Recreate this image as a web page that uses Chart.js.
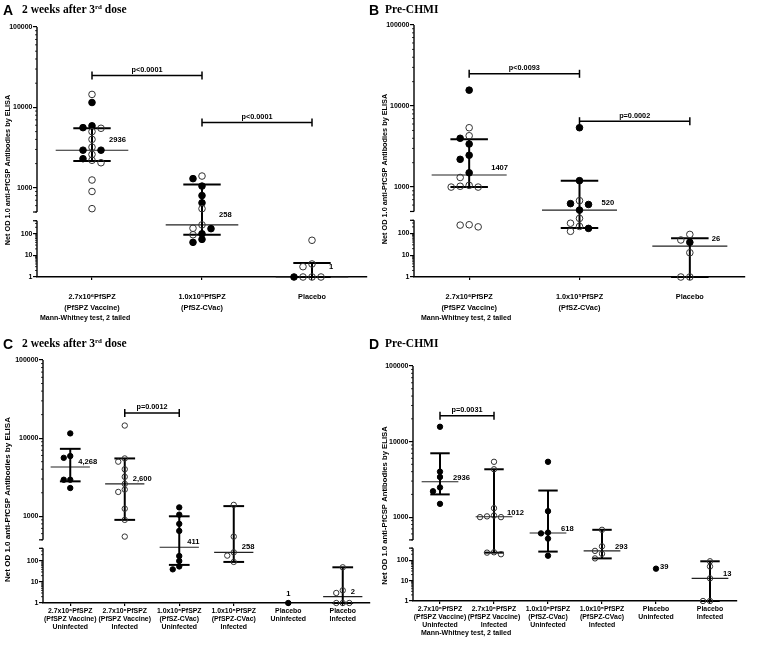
<!DOCTYPE html>
<html>
<head>
<meta charset="utf-8">
<title>Net OD 1.0 anti-PfCSP antibodies</title>
<script src="https://cdn.jsdelivr.net/npm/chart.js@4.4.1/dist/chart.umd.min.js"></script>
<style>
  body { margin: 0; background: #fff; }
  #page { position: relative; width: 757px; height: 649px; overflow: hidden; background: #fff; }
  .panel { position: absolute; }
  .txt { position: absolute; line-height: 1; white-space: nowrap; z-index: 2; color: #000; }
  .letter { font: bold 14px "Liberation Sans", Arial, sans-serif; }
  .head { font: bold 11.5px "Liberation Serif", "Times New Roman", serif; }
  .head sup { font-size: 7px; vertical-align: 4px; line-height: 0; }
  .note { font: bold 7px "Liberation Sans", Arial, sans-serif; }
</style>
</head>
<body>
<div id="page">
  <div class="panel" style="left:0;top:0"><canvas id="chartA" width="378" height="318"></canvas></div>
  <div class="panel" style="left:378px;top:0"><canvas id="chartB" width="379" height="318"></canvas></div>
  <div class="panel" style="left:0;top:330px"><canvas id="chartC" width="378" height="319"></canvas></div>
  <div class="panel" style="left:378px;top:330px"><canvas id="chartD" width="379" height="300"></canvas></div>

  <div class="txt letter" style="left:3px;top:2px">A</div>
  <div class="txt head" style="left:22px;top:3px">2 weeks after 3<sup>rd</sup> dose</div>
  <div class="txt letter" style="left:369px;top:2px">B</div>
  <div class="txt head" style="left:385px;top:3px">Pre-CHMI</div>
  <div class="txt note" style="left:40px;top:314px">Mann-Whitney test, 2 tailed</div>
  <div class="txt note" style="left:421px;top:314px">Mann-Whitney test, 2 tailed</div>

  <div class="txt letter" style="left:3px;top:336px">C</div>
  <div class="txt head" style="left:22px;top:337px">2 weeks after 3<sup>rd</sup> dose</div>
  <div class="txt letter" style="left:369px;top:336px">D</div>
  <div class="txt head" style="left:385px;top:337px">Pre-CHMI</div>
  <div class="txt note" style="left:421px;top:629px">Mann-Whitney test, 2 tailed</div>
</div>

<script>
// Category labels
const catsAB = [
  ["2.7x10⁶PfSPZ", "(PfSPZ Vaccine)"],
  ["1.0x10⁵PfSPZ", "(PfSZ-CVac)"],
  ["Placebo"],
];
const catsCD = [
  ["2.7x10⁶PfSPZ", "(PfSPZ Vaccine)", "Uninfected"],
  ["2.7x10⁶PfSPZ", "(PfSPZ Vaccine)", "Infected"],
  ["1.0x10⁵PfSPZ", "(PfSZ-CVac)", "Uninfected"],
  ["1.0x10⁵PfSPZ", "(PfSPZ-CVac)", "Infected"],
  ["Placebo", "Uninfected"],
  ["Placebo", "Infected"],
];
const yTicks = [1, 10, 100, 1000, 10000, 100000];

// 2 weeks after 3rd dose (filled = uninfected, open = infected)
const postVaccUninf = [11500, 5900, 5600, 2936, 2936, 2300];
const postVaccInf = [14500, 5500, 5000, 4000, 3200, 2600, 2200, 2050, 1250, 900, 550];
const postCvacUninf = [1300, 1050, 800, 650, 172, 100, 55, 40];
const postCvacInf = [1400, 550, 258, 180, 90];
const postPlacUninf = [1];
const postPlacInf = [50, 4, 3, 1, 1, 1];

// Pre-CHMI
const preVaccUninf = [15700, 4000, 3400, 2472, 2200, 1500];
const preVaccInf = [5400, 4300, 1314, 1050, 1024, 1000, 1000, 250, 240, 200];
const preCvacUninf = [5400, 1200, 625, 610, 520, 170];
const preCvacInf = [680, 420, 293, 210, 125];
const prePlacUninf = [39];
const prePlacInf = [90, 50, 13, 1, 1];

// Median and interquartile range per group
const medA = [2936, 258, 1];
const q1A = [2150, 90, 1];
const q3A = [5500, 1100, 4.5];
const medB = [1407, 520, 26];
const q1B = [1000, 175, 1];
const q3B = [3900, 1200, 60];
const medC = [4268, 2600, 411, 258, 1, 2];
const q1C = [2800, 900, 65, 90, null, 1];
const q3C = [7300, 5500, 1000, 1350, null, 50];
const medD = [2936, 1012, 618, 293, 39, 13];
const q1D = [2000, 240, 270, 125, null, 1];
const q3D = [7000, 4300, 2250, 680, null, 90];

const medTextA = ["2936", "258", "1"];
const medTextB = ["1407", "520", "26"];
const medTextC = ["4,268", "2,600", "411", "258", "1", "2"];
const medTextD = ["2936", "1012", "618", "293", "39", "13"];

// Significance brackets: [from, to, y value, text]
const bracketsA = [[0, 1, 25000, "p<0.0001"], [1, 2, 6500, "p<0.0001"]];
const bracketsB = [[0, 1, 25000, "p<0.0093"], [1, 2, 6500, "p=0.0002"]];
const bracketsC = [[1, 2, 21000, "p=0.0012"]];
const bracketsD = [[0, 1, 22000, "p=0.0031"]];

const FONT = '"Liberation Sans", Arial, sans-serif';
Chart.defaults.font.family = FONT;
Chart.defaults.font.weight = "bold";
Chart.defaults.color = "#000";

// Log axis with a break between the lower (1-400) and upper (500-100000) segments
class BrokenLogScale extends Chart.LogarithmicScale {
  static id = "brokenLog";
  static defaults = {};

  parts() {
    const o = this.options;
    const h = this.bottom - this.top;
    const lowH = h * o.lowPart;
    const gapH = h * o.gapPart;
    return { lowH, gapH, highH: h - lowH - gapH };
  }

  getPixelForValue(value) {
    const o = this.options;
    const p = this.parts();
    const L = Math.log10;
    const v = Math.max(value, this.min);
    if (v <= o.lowMax) {
      return this.bottom - ((L(v) - L(this.min)) / (L(o.lowMax) - L(this.min))) * p.lowH;
    }
    if (v < o.highMin) {
      return this.bottom - p.lowH - ((L(v) - L(o.lowMax)) / (L(o.highMin) - L(o.lowMax))) * p.gapH;
    }
    return this.bottom - p.lowH - p.gapH - ((L(v) - L(o.highMin)) / (L(this.max) - L(o.highMin))) * p.highH;
  }

  getValueForPixel(pixel) {
    const o = this.options;
    const p = this.parts();
    const L = Math.log10;
    const d = this.bottom - pixel;
    if (d <= p.lowH) return Math.pow(10, L(this.min) + (d / p.lowH) * (L(o.lowMax) - L(this.min)));
    if (d <= p.lowH + p.gapH) return Math.pow(10, L(o.lowMax) + ((d - p.lowH) / p.gapH) * (L(o.highMin) - L(o.lowMax)));
    return Math.pow(10, L(o.highMin) + ((d - p.lowH - p.gapH) / p.highH) * (L(this.max) - L(o.highMin)));
  }
}
Chart.register(BrokenLogScale);

function line(ctx, x1, y1, x2, y2) {
  ctx.beginPath();
  ctx.moveTo(x1, y1);
  ctx.lineTo(x2, y2);
  ctx.stroke();
}

// Plugin: point spreading, broken y axis, median/IQR bars, brackets and labels
const marks = {
  id: "marks",
  afterDatasetsUpdate(chart, args, o) {
    const cols = {};
    chart.data.datasets.forEach((ds, i) => {
      chart.getDatasetMeta(i).data.forEach((pt) => {
        const k = Math.round(pt.x);
        (cols[k] = cols[k] || []).push(pt);
      });
    });
    Object.values(cols).forEach((pts) => {
      const x0 = pts[0].x;
      const placed = [];
      pts.sort((a, b) => a.y - b.y).forEach((pt) => {
        for (const k of [0, -1, 1, -2, 2, -3, 3]) {
          const nx = x0 + k * o.step;
          const hit = placed.some(
            (q) => Math.abs(q.x - nx) < o.step * 0.9 && Math.abs(q.y - pt.y) < o.r * 1.7
          );
          if (!hit) {
            pt.x = nx;
            break;
          }
        }
        placed.push(pt);
      });
    });
  },

  beforeDatasetsDraw(chart, args, o) {
    const ctx = chart.ctx;
    const x = chart.scales.x;
    const y = chart.scales.y;
    const yo = y.options;
    const ax = chart.chartArea.left;
    ctx.save();
    ctx.strokeStyle = "#000";

    // y axis segments with minor ticks
    ctx.lineWidth = 1.4;
    line(ctx, ax, y.getPixelForValue(y.min), ax, y.getPixelForValue(yo.lowMax));
    line(ctx, ax, y.getPixelForValue(yo.highMin), ax, y.getPixelForValue(y.max));
    ctx.lineWidth = 0.8;
    for (let e = 0; e < 5; e++) {
      for (let m = 2; m <= 9; m++) {
        const v = m * Math.pow(10, e);
        if (v <= yo.lowMax || v >= yo.highMin) {
          const py = y.getPixelForValue(v);
          line(ctx, ax - 2, py, ax, py);
        }
      }
    }
    ctx.lineWidth = 1.2;
    [yo.lowMax, yo.highMin].forEach((v) => {
      const py = y.getPixelForValue(v);
      line(ctx, ax - 4, py, ax, py);
    });

    // median with interquartile range
    const cw = x.getPixelForValue(1) - x.getPixelForValue(0);
    o.med.forEach((m, i) => {
      if (o.q1[i] == null) return;
      const cx = x.getPixelForValue(i);
      const pm = y.getPixelForValue(m);
      const p1 = y.getPixelForValue(o.q1[i]);
      const p3 = y.getPixelForValue(o.q3[i]);
      ctx.strokeStyle = "#222";
      ctx.lineWidth = 1.1;
      line(ctx, cx - (cw * o.medW) / 2, pm, cx + (cw * o.medW) / 2, pm);
      ctx.strokeStyle = "#000";
      ctx.lineWidth = 2;
      line(ctx, cx, p1, cx, p3);
      line(ctx, cx - (cw * o.capW) / 2, p1, cx + (cw * o.capW) / 2, p1);
      line(ctx, cx - (cw * o.capW) / 2, p3, cx + (cw * o.capW) / 2, p3);
    });
    ctx.restore();
  },

  afterDraw(chart, args, o) {
    const ctx = chart.ctx;
    const x = chart.scales.x;
    const y = chart.scales.y;
    ctx.save();
    ctx.fillStyle = "#000";
    ctx.strokeStyle = "#000";

    // significance brackets
    ctx.font = `bold 7.3px ${FONT}`;
    ctx.textAlign = "center";
    ctx.textBaseline = "bottom";
    o.brackets.forEach(([a, b, v, t]) => {
      const x1 = x.getPixelForValue(a);
      const x2 = x.getPixelForValue(b);
      const py = y.getPixelForValue(v);
      ctx.lineWidth = 1.5;
      line(ctx, x1, py, x2, py);
      line(ctx, x1, py - 4, x1, py + 4);
      line(ctx, x2, py - 4, x2, py + 4);
      ctx.fillText(t, (x1 + x2) / 2, py - 2);
    });

    // median values
    ctx.font = `bold ${o.labSize}px ${FONT}`;
    ctx.textBaseline = "middle";
    o.med.forEach((m, i) => {
      const cx = x.getPixelForValue(i);
      const pm = y.getPixelForValue(m);
      if (o.q1[i] == null) {
        if (o.single === "above") {
          ctx.textAlign = "center";
          ctx.fillText(o.medText[i], cx, pm - 9);
        } else {
          ctx.textAlign = "left";
          ctx.fillText(o.medText[i], cx + 4, pm - 2);
        }
        return;
      }
      ctx.textAlign = "left";
      ctx.fillText(o.medText[i], cx + o.labDx, pm - o.labDy);
    });

    // y axis title
    ctx.font = `bold ${o.titleSize}px ${FONT}`;
    ctx.textAlign = "center";
    ctx.translate(o.titleX, (y.top + y.bottom) / 2 + o.titleShift);
    ctx.rotate(-Math.PI / 2);
    ctx.fillText("Net OD 1.0 anti-PfCSP Antibodies by ELISA", 0, 0);
    ctx.restore();
  },
};

function makePanel(id, p) {
  const filled = [];
  const open = [];
  p.groups.forEach((g, i) => {
    (g.filled || []).forEach((v) => filled.push({ x: i, y: v }));
    (g.open || []).forEach((v) => open.push({ x: i, y: v }));
  });

  return new Chart(document.getElementById(id), {
    type: "scatter",
    data: {
      datasets: [
        {
          data: open,
          pointRadius: p.r,
          pointBackgroundColor: "rgba(0,0,0,0)",
          pointBorderColor: "#333",
          pointBorderWidth: 1,
          clip: false,
        },
        {
          data: filled,
          pointRadius: p.r,
          pointBackgroundColor: "#000",
          pointBorderColor: "#000",
          pointBorderWidth: 1,
          clip: false,
        },
      ],
    },
    plugins: [marks],
    options: {
      responsive: false,
      animation: false,
      events: [],
      layout: { padding: p.padding },
      scales: {
        x: {
          type: "linear",
          min: -0.5,
          max: p.cats.length - 0.5,
          afterBuildTicks: (s) => {
            s.ticks = p.cats.map((c, i) => ({ value: i }));
          },
          afterFit: (s) => {
            s.height = p.xHeight;
          },
          grid: { display: true, drawOnChartArea: false, tickLength: 3, color: "#000", lineWidth: 1.2 },
          border: { display: true, color: "#000", width: 1.5 },
          ticks: {
            autoSkip: false,
            maxRotation: 0,
            padding: p.tickPad,
            font: { size: p.xFont, weight: "bold", lineHeight: p.lineH },
            callback: (v) => p.cats[Math.round(v)],
          },
        },
        y: {
          type: "brokenLog",
          min: 1,
          max: 100000,
          lowMax: 400,
          highMin: 500,
          lowPart: 0.225,
          gapPart: 0.035,
          afterBuildTicks: (s) => {
            s.ticks = yTicks.map((v) => ({ value: v }));
          },
          afterFit: (s) => {
            s.width = p.yWidth;
          },
          grid: { display: true, drawOnChartArea: false, tickLength: 4, color: "#000", lineWidth: 1.2 },
          border: { display: false },
          ticks: {
            autoSkip: false,
            padding: 0.5,
            font: { size: 7, weight: "bold" },
            callback: (v) => String(v),
          },
        },
      },
      plugins: {
        legend: { display: false },
        tooltip: { enabled: false },
        marks: {
          med: p.med,
          q1: p.q1,
          q3: p.q3,
          medText: p.medText,
          brackets: p.brackets,
          r: p.r,
          step: p.step,
          medW: p.medW,
          capW: p.capW,
          labDx: p.labDx,
          labDy: p.labDy,
          labSize: p.labSize,
          single: p.single,
          titleSize: p.titleSize,
          titleX: p.titleX,
          titleShift: p.titleShift,
        },
      },
    },
  });
}

// A: 2 weeks after 3rd dose, all volunteers
makePanel("chartA", {
  cats: catsAB,
  groups: [
    { filled: postVaccUninf, open: postVaccInf },
    { filled: postCvacUninf, open: postCvacInf },
    { filled: postPlacUninf, open: postPlacInf },
  ],
  med: medA, q1: q1A, q3: q3A, medText: medTextA, brackets: bracketsA,
  padding: { top: 27, right: 11, bottom: 6, left: 0 },
  yWidth: 37, xHeight: 35, xFont: 7.3, lineH: 11 / 7.3, tickPad: 11.5,
  r: 3.3, step: 9, medW: 0.66, capW: 0.34,
  labDx: 17, labDy: 10, labSize: 7.6, single: "above",
  titleSize: 7.3, titleX: 7.5, titleShift: 18,
});

// B: pre-CHMI, all volunteers
makePanel("chartB", {
  cats: catsAB,
  groups: [
    { filled: preVaccUninf, open: preVaccInf },
    { filled: preCvacUninf, open: preCvacInf },
    { filled: prePlacUninf, open: prePlacInf },
  ],
  med: medB, q1: q1B, q3: q3B, medText: medTextB, brackets: bracketsB,
  padding: { top: 25, right: 12, bottom: 6, left: 0 },
  yWidth: 36, xHeight: 35, xFont: 7.3, lineH: 11 / 7.3, tickPad: 11.5,
  r: 3.3, step: 9, medW: 0.68, capW: 0.34,
  labDx: 22, labDy: 7, labSize: 7.6, single: "right",
  titleSize: 7.3, titleX: 7, titleShift: 18,
});

// C: 2 weeks after 3rd dose, split by CHMI outcome
makePanel("chartC", {
  cats: catsCD,
  groups: [
    { filled: postVaccUninf },
    { open: postVaccInf },
    { filled: postCvacUninf },
    { open: postCvacInf },
    { filled: postPlacUninf },
    { open: postPlacInf },
  ],
  med: medC, q1: q1C, q3: q3C, medText: medTextC, brackets: bracketsC,
  padding: { top: 30, right: 8, bottom: 11, left: 0 },
  yWidth: 43, xHeight: 35, xFont: 6.9, lineH: 8 / 6.9, tickPad: 1,
  r: 2.7, step: 6.5, medW: 0.72, capW: 0.38,
  labDx: 8, labDy: 5, labSize: 7.6, single: "above",
  titleSize: 8, titleX: 8, titleShift: 18,
});

// D: pre-CHMI, split by CHMI outcome
makePanel("chartD", {
  cats: catsCD,
  groups: [
    { filled: preVaccUninf },
    { open: preVaccInf },
    { filled: preCvacUninf },
    { open: preCvacInf },
    { filled: prePlacUninf },
    { open: prePlacInf },
  ],
  med: medD, q1: q1D, q3: q3D, medText: medTextD, brackets: bracketsD,
  padding: { top: 36, right: 20, bottom: 0, left: 0 },
  yWidth: 35, xHeight: 29, xFont: 6.9, lineH: 8 / 6.9, tickPad: 1,
  r: 2.7, step: 7, medW: 0.68, capW: 0.36,
  labDx: 13, labDy: 4, labSize: 7.6, single: "right",
  titleSize: 7.7, titleX: 7, titleShift: 22,
});
</script>
</body>
</html>
